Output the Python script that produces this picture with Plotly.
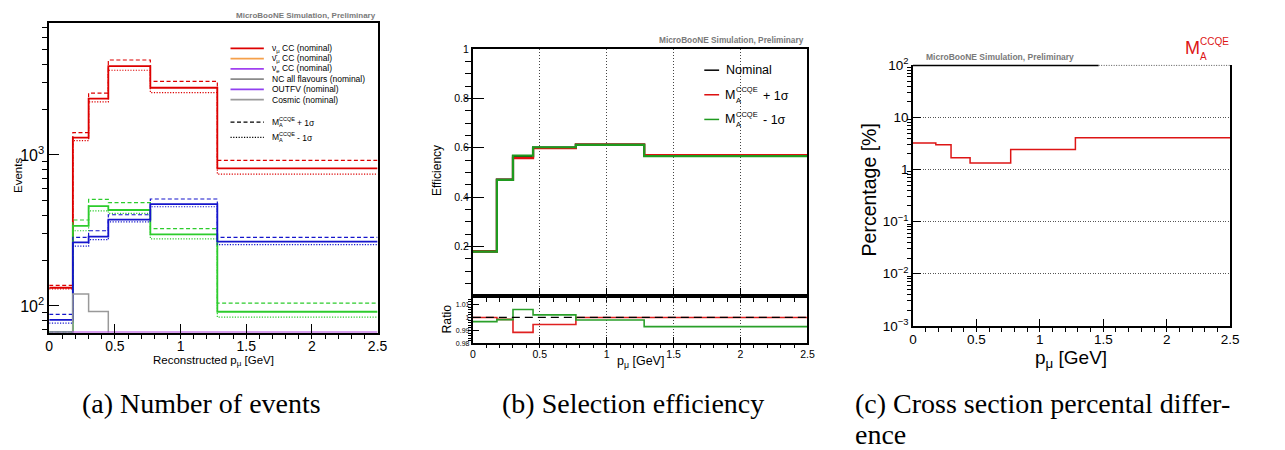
import plotly.graph_objects as go

W, H = 1285, 450
SANS = "Liberation Sans, Arial, sans-serif"
SERIF = "Liberation Serif, Times New Roman, serif"

# ---------------- data ----------------
edges = [0.0, 0.18, 0.30, 0.45, 0.77, 1.28, 2.5]

# panel (a) events (nominal / +1sigma / -1sigma)
red_nom = [132, 1302, 2361, 3880, 2786, 815]
red_up = [137, 1406, 2566, 4256, 3076, 920]
red_dn = [130, 1246, 2250, 3640, 2588, 747]
green_nom = [67, 339, 458, 432, 298, 91.6]
green_up = [67, 371, 508, 483, 325, 104.5]
green_dn = [67, 315, 426, 411, 278, 84.4]
blue_nom = [81, 264, 288, 373, 472, 267]
blue_up = [88, 285, 315, 402, 511, 285]
blue_dn = [77, 249, 275, 361, 454, 255]
gray_nom = [30, 120, 92, 40, 20, 8]
purple_nom = [67, 67, 67, 67, 67, 67]

legend_a_labels = ["ν<sub>μ</sub> CC (nominal)", "ν̄<sub>μ</sub> CC (nominal)",
                   "ν<sub>e</sub> CC (nominal)", "NC all flavours (nominal)",
                   "OUTFV (nominal)", "Cosmic (nominal)"]
legend_a_colors = ["#dd0000", "#f5a04a", "#a040f0", "#8a8a8a", "#9040f0", "#9a9a9a"]

# panel (b) efficiency
eff_nom = [0.180, 0.471, 0.565, 0.601, 0.613, 0.570]
eff_up = [0.180, 0.470, 0.558, 0.598, 0.613, 0.570]
eff_dn = [0.179, 0.470, 0.568, 0.602, 0.612, 0.566]
ratio_nom = [1.0, 1.0, 1.0, 1.0, 1.0, 1.0]
ratio_up = [1.000, 0.9985, 0.9885, 0.9946, 1.000, 1.000]
ratio_dn = [0.9968, 0.9983, 1.0061, 1.0020, 0.9980, 0.9929]

# panel (c) cross-section percentage difference
xsec_pct = [3.22, 3.0, 1.69, 1.34, 2.43, 4.1]

x_ticks = [0, 0.5, 1, 1.5, 2, 2.5]
x_ticktext = ["0", "0.5", "1", "1.5", "2", "2.5"]


def px(x):
    return x / W


def py(y):
    return 1 - y / H


def step(vals):
    return list(edges), list(vals) + [vals[-1]]


fig = go.Figure()


def add_step(vals, color, width, dash, xa, ya):
    xs, ys = step(vals)
    fig.add_trace(go.Scatter(x=xs, y=ys, mode="lines", line_shape="hv",
                             line=dict(color=color, width=width, dash=dash),
                             xaxis=xa, yaxis=ya, showlegend=False, hoverinfo="skip"))


DASH = "4px,2.5px"
DOT = "1.2px,1.5px"

# panel (a)
for nom, up, dn, col in [(red_nom, red_up, red_dn, "#dd0000"),
                         (green_nom, green_up, green_dn, "#2ccc2c"),
                         (blue_nom, blue_up, blue_dn, "#1515cc")]:
    add_step(up, col, 1.2, DASH, "x", "y")
    add_step(dn, col, 1.2, DOT, "x", "y")
    add_step(nom, col, 1.8, "solid", "x", "y")
add_step(gray_nom, "#999999", 1.5, "solid", "x", "y")
add_step(purple_nom, "#b040e0", 1.5, "solid", "x", "y")

# panel (b) main
add_step(eff_nom, "#000000", 2.2, "solid", "x2", "y2")
add_step(eff_up, "#dd1111", 2.2, "solid", "x2", "y2")
add_step(eff_dn, "#1f9a1f", 2.2, "solid", "x2", "y2")
# panel (b) ratio
add_step(ratio_up, "#e02020", 1.6, "solid", "x3", "y3")
add_step(ratio_dn, "#2aa02a", 1.6, "solid", "x3", "y3")
add_step(ratio_nom, "#000000", 1.2, "8px,5px", "x3", "y3")

# panel (c)
add_step(xsec_pct, "#dd1515", 1.5, "solid", "x4", "y4")


def log_minors(lo, hi):
    out = []
    for d in range(lo, hi):
        for m in range(2, 10):
            out.append(m * 10 ** d)
    return out


def xaxis_cfg(domain, anchor, ticklen, minorlen, fontsize, labels=True, grid=False,
              mirror=True, lw=1.5):
    return dict(domain=domain, anchor=anchor, range=[0, 2.5], showline=True,
                linecolor="black", linewidth=lw, mirror=mirror, ticks="inside",
                tickmode="array", tickvals=x_ticks, ticktext=x_ticktext,
                ticklen=ticklen, tickwidth=1, tickcolor="black",
                showticklabels=labels, tickfont=dict(family=SANS, size=fontsize, color="black"),
                minor=dict(tickmode="linear", tick0=0, dtick=0.1, ticklen=minorlen,
                           tickcolor="black", tickwidth=1, showgrid=False),
                showgrid=grid, gridcolor="#444444", griddash="1px,2px", gridwidth=1,
                zeroline=False, fixedrange=True)


lay = dict(width=W, height=H, margin=dict(l=0, r=0, t=0, b=0),
           paper_bgcolor="white", plot_bgcolor="white", showlegend=False)

# panel (a) axes
lay["xaxis"] = xaxis_cfg([px(45.7), px(377.7)], "y", 9, 5, 14)
lay["yaxis"] = dict(domain=[py(336), py(14)], anchor="x", type="log", range=[1.824, 3.871],
                    showline=True, linecolor="black", linewidth=1.5, mirror=True,
                    ticks="inside", tickmode="array", tickvals=[100, 1000],
                    ticktext=["10<sup>2</sup>", "10<sup>3</sup>"], ticklen=10, tickwidth=1,
                    tickcolor="black", tickfont=dict(family=SANS, size=16, color="black"),
                    minor=dict(tickmode="array", tickvals=log_minors(1, 4), ticklen=5,
                               tickcolor="black", tickwidth=1, showgrid=False),
                    showgrid=False, zeroline=False, fixedrange=True)

# panel (b) axes
lay["xaxis2"] = xaxis_cfg([px(474), px(812.3)], "y2", 8, 4, 10.5, labels=False, grid=True, lw=2)
lay["yaxis2"] = dict(domain=[py(297.7), py(40.7)], anchor="x2", range=[0, 1],
                     showline=True, linecolor="black", linewidth=2, mirror=True,
                     ticks="inside", tickmode="array", tickvals=[0.2, 0.4, 0.6, 0.8, 1],
                     ticktext=["0.2", "0.4", "0.6", "0.8", "1"], ticklen=11, tickwidth=1,
                     tickcolor="black", tickfont=dict(family=SANS, size=10.5, color="black"),
                     minor=dict(tickmode="linear", tick0=0, dtick=0.05, ticklen=6,
                                tickcolor="black", tickwidth=1, showgrid=False),
                     showgrid=False, zeroline=False, fixedrange=True)
lay["xaxis3"] = xaxis_cfg([px(474), px(812.3)], "y3", 6, 3, 10.5, labels=True, grid=True, lw=2)
lay["yaxis3"] = dict(domain=[py(347.3), py(297.7)], anchor="x3", range=[0.98, 1.0167],
                     showline=True, linecolor="black", linewidth=2, mirror=True,
                     ticks="inside", tickmode="array", tickvals=[0.98, 0.99, 1.0, 1.01],
                     ticktext=["0.98", "0.99", "1", "1.01"], ticklen=6, tickwidth=1,
                     tickcolor="black", tickfont=dict(family=SANS, size=7, color="black"),
                     minor=dict(tickmode="linear", tick0=0.98, dtick=0.002, ticklen=3,
                                tickcolor="black", tickwidth=1, showgrid=False),
                     showgrid=False, zeroline=False, fixedrange=True)

# panel (c) axes
lay["xaxis4"] = xaxis_cfg([px(919), px(1239.7)], "y4", 7, 4, 13.5, mirror=False)
lay["yaxis4"] = dict(domain=[py(329), py(57.7)], anchor="x4", type="log", range=[-3, 2],
                     showline=True, linecolor="black", linewidth=1.5, mirror=True,
                     ticks="inside", tickmode="array",
                     tickvals=[0.001, 0.01, 0.1, 1, 10, 100],
                     ticktext=["10<sup>−3</sup>", "10<sup>−2</sup>", "10<sup>−1</sup>", "1", "10",
                               "10<sup>2</sup>"],
                     ticklen=8, tickwidth=1, tickcolor="black",
                     tickfont=dict(family=SANS, size=13.5, color="black"),
                     minor=dict(tickmode="array", tickvals=log_minors(-3, 2), ticklen=4,
                                tickcolor="black", tickwidth=1, showgrid=False),
                     showgrid=True, gridcolor="#555555", griddash="1px,1.5px", gridwidth=1,
                     zeroline=False, fixedrange=True)

fig.update_layout(**lay)

annotations = []
shapes = []


def ann(text, x, y, size, color="black", xanchor="center", yanchor="middle", angle=0,
        family=SANS):
    annotations.append(dict(text=text, x=px(x), y=py(y), xref="paper", yref="paper",
                            xanchor=xanchor, yanchor=yanchor, showarrow=False,
                            textangle=angle, font=dict(family=family, size=size, color=color)))


def hline(x0, x1, y, color, width, dash="solid"):
    shapes.append(dict(type="line", xref="paper", yref="paper", x0=px(x0), x1=px(x1),
                       y0=py(y), y1=py(y), line=dict(color=color, width=width, dash=dash)))


def ma_label(xm, ym, size, color, suffix, xs, sup_dy, sub_dy, subsize, xsuf):
    ann("M", xm, ym, size, color, xanchor="left")
    ann("CCQE", xs, ym + sup_dy, subsize, color, xanchor="left")
    ann("A", xs, ym + sub_dy, subsize, color, xanchor="left")
    if suffix:
        ann(suffix, xsuf, ym + 1, size, color, xanchor="left")


GRAYTXT = "#7a7a7a"
# MicroBooNE labels
ann("<b>MicroBooNE Simulation, Preliminary</b>", 377.7, 6, 8, GRAYTXT, xanchor="right")
ann("<b>MicroBooNE Simulation, Preliminary</b>", 810.7, 31, 8.3, GRAYTXT, xanchor="right")
ann("<b>MicroBooNE Simulation, Preliminary</b>", 930, 49, 8.5, GRAYTXT, xanchor="left")

# panel (a) legend (manual)
leg_y = [40, 50.7, 61.3, 72, 82.7, 93.3]
for lab, col, yy in zip(legend_a_labels, legend_a_colors, leg_y):
    hline(229, 262.7, yy, col, 1.8)
    ann(lab, 269, yy, 8.5, "black", xanchor="left")
hline(229, 262.7, 116.7, "black", 1.2, DASH)
hline(229, 262.7, 132.7, "black", 1.2, DOT)
ma_label(269.3, 116.7, 8.5, "black", "+ 1σ", 276, -3.5, 3, 5.5, 294)
ma_label(269.3, 132.7, 8.5, "black", "- 1σ", 276, -3.5, 3, 5.5, 294)

# panel (b) legend (manual)
hline(708, 723, 62.7, "black", 1.5)
ann("Nominal", 727.5, 62.7, 12.5, "black", xanchor="left")
hline(708, 723, 88.3, "#dd1111", 1.5)
ma_label(726.7, 88.3, 12.5, "black", "+ 1σ", 738.3, -5, 5.5, 7.5, 765)
hline(708, 723, 114, "#1f9a1f", 1.5)
ma_label(726.7, 114, 12.5, "black", "- 1σ", 738.3, -5, 5.5, 7.5, 765)

# panel (c) top frame (solid part + dotted part) and label
hline(919, 1106.7, 57.7, "black", 1.5)
hline(1106.7, 1239.7, 57.7, "#555555", 1, "1px,1.5px")
ma_label(1191.7, 39.7, 18, "#dd1515", "", 1206.7, -6.4, 8.6, 10, 0)

# axis titles
ann("Events", 14, 172, 11.5, angle=-90)
ann("Reconstructed p<sub>μ</sub> [GeV]", 212, 366, 11.5)
ann("Efficiency", 438, 167.5, 12, angle=-90)
ann("Ratio", 448.3, 322, 12.3, angle=-90)
ann("p<sub>μ</sub> [GeV]", 643.3, 367, 12.5)
ann("Percentage [%]", 875, 187.5, 19.5, angle=-90)
ann("p<sub>μ</sub> [GeV]", 1079, 364, 19)

# captions
ann("(a) Number of events", 77, 410, 28, xanchor="left", family=SERIF)
ann("(b) Selection efficiency", 501, 410, 28, xanchor="left", family=SERIF)
ann("(c) Cross section percental differ-", 858, 410, 28, xanchor="left", family=SERIF)
ann("ence", 858, 442, 28, xanchor="left", family=SERIF)

fig.update_layout(annotations=annotations, shapes=shapes)
fig.write_html("out.html")
